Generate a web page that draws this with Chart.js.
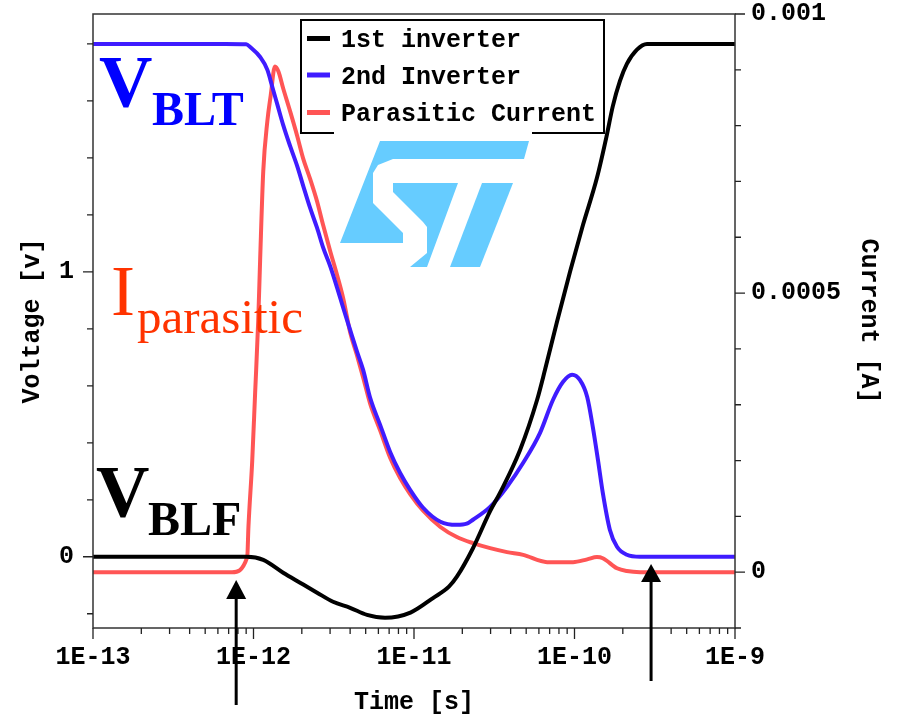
<!DOCTYPE html>
<html>
<head>
<meta charset="utf-8">
<script src="https://cdn.jsdelivr.net/npm/chart.js@4.4.1/dist/chart.umd.min.js"></script>
<style>
html,body{margin:0;padding:0;background:#fff;}
#wrap{width:901px;height:715px;}
canvas{display:block;}
</style>
</head>
<body>
<div id="wrap"><canvas id="c" width="901" height="715"></canvas></div>
<script>
// ---------------- DATA ----------------
const seriesNames = ['1st inverter', '2nd Inverter', 'Parasitic Current'];

const inv1Time = [1e-13, 9.1e-13, 1.15e-12, 1.53e-12, 1.95e-12, 2.49e-12, 3.13e-12, 4.0e-12, 5.1e-12, 6.6e-12,
  9.5e-12, 1.32e-11, 1.65e-11, 1.85e-11, 2.33e-11, 2.98e-11, 3.44e-11, 4.58e-11, 5.85e-11, 6.55e-11,
  7.78e-11, 9.38e-11, 1.13e-10, 1.38e-10, 1.59e-10, 1.73e-10, 1.92e-10, 2.12e-10, 2.45e-10, 2.83e-10,
  3.56e-10, 1e-9];
const inv1Volt = [0, 0, -0.011, -0.056, -0.091, -0.126, -0.158, -0.179, -0.204, -0.214,
  -0.196, -0.144, -0.105, -0.07, 0.03, 0.16, 0.225, 0.375, 0.551, 0.656,
  0.825, 1.0, 1.165, 1.33, 1.48, 1.58, 1.67, 1.73, 1.78, 1.80,
  1.80, 1.80];

const inv2Time = [1e-13, 6.7e-13, 9.0e-13, 9.53e-13, 1.10e-12, 1.22e-12, 1.31e-12, 1.41e-12, 1.53e-12, 1.69e-12,
  1.87e-12, 2.04e-12, 2.25e-12, 2.49e-12, 2.72e-12, 3.0e-12, 3.32e-12, 3.62e-12, 4.0e-12, 4.42e-12,
  4.82e-12, 5.33e-12, 6.15e-12, 7.1e-12, 8.18e-12, 9.46e-12, 1.14e-11, 1.46e-11, 1.85e-11, 2.13e-11,
  2.33e-11, 2.98e-11, 3.8e-11, 4.79e-11, 6.1e-11, 7.35e-11, 8.49e-11, 9.66e-11, 1.08e-10, 1.2e-10,
  1.3e-10, 1.4e-10, 1.5e-10, 1.66e-10, 1.84e-10, 2.12e-10, 2.56e-10, 1e-9];
const inv2Volt = [1.8, 1.8, 1.799, 1.789, 1.754, 1.709, 1.649, 1.586, 1.516, 1.442,
  1.372, 1.302, 1.225, 1.154, 1.084, 1.021, 0.944, 0.874, 0.796, 0.719,
  0.656, 0.558, 0.463, 0.368, 0.295, 0.235, 0.172, 0.123, 0.112, 0.116,
  0.13, 0.175, 0.246, 0.33, 0.435, 0.551, 0.614, 0.639, 0.621, 0.561,
  0.456, 0.34, 0.225, 0.095, 0.035, 0.007, 0, 0];

const parTime = [1e-13, 7.36e-13, 9.14e-13, 9.3e-13, 9.82e-13, 1.024e-12, 1.07e-12, 1.1e-12, 1.15e-12, 1.22e-12,
  1.28e-12, 1.36e-12, 1.43e-12, 1.53e-12, 1.69e-12, 1.87e-12, 2.04e-12, 2.25e-12, 2.49e-12, 2.72e-12,
  3.0e-12, 3.32e-12, 3.62e-12, 4.0e-12, 4.42e-12, 4.82e-12, 5.33e-12, 6.15e-12, 7.1e-12, 8.18e-12,
  9.46e-12, 1.14e-11, 1.46e-11, 1.85e-11, 2.33e-11, 2.98e-11, 3.8e-11, 4.79e-11, 6.75e-11, 9.79e-11,
  1.2e-10, 1.38e-10, 1.5e-10, 1.84e-10, 2.12e-10, 2.56e-10, 1e-9];
const parCurrent = [0, 0, 2.7e-5, 8.1e-5, 2.0e-4, 3.22e-4, 4.5e-4, 5.6e-4, 7.18e-4, 8.08e-4,
  8.54e-4, 9.06e-4, 8.97e-4, 8.67e-4, 8.26e-4, 7.82e-4, 7.41e-4, 7.05e-4, 6.64e-4, 6.21e-4,
  5.76e-4, 5.32e-4, 4.91e-4, 4.3e-4, 3.88e-4, 3.49e-4, 3.02e-4, 2.54e-4, 2.05e-4, 1.69e-4,
  1.40e-4, 1.10e-4, 8.1e-5, 6.3e-5, 5.2e-5, 4.3e-5, 3.6e-5, 3.1e-5, 1.8e-5, 1.8e-5,
  2.3e-5, 2.7e-5, 2.5e-5, 7e-6, 2e-6, 0, 0];

const xMajorTicks = [1e-13, 1e-12, 1e-11, 1e-10, 1e-9];
const xMajorLabels = ['1E-13', '1E-12', '1E-11', '1E-10', '1E-9'];
const xMinorMultipliers = [2, 3, 4, 5, 6, 7, 8, 9];

const voltTicks = [-0.2, 0, 0.2, 0.4, 0.6, 0.8, 1, 1.2, 1.4, 1.6, 1.8];
const voltLabeledTicks = [0, 1];
const voltTickLabels = ['0', '1'];

const currentTicks = [-0.0001, 0, 0.0001, 0.0002, 0.0003, 0.0004, 0.0005, 0.0006, 0.0007, 0.0008, 0.0009, 0.001];
const currentLabeledTicks = [0, 0.0005, 0.001];
const currentTickLabels = ['0', '0.0005', '0.001'];

const arrowTimes = [7.8e-13, 3e-10];

// ---------------- HELPERS ----------------
const near = (a, b) => a === b || Math.abs(a - b) <= Math.max(Math.abs(a), Math.abs(b)) * 1e-6;
const labelFrom = (vals, labels) => (v) => { const i = vals.findIndex(m => near(m, v)); return i >= 0 ? labels[i] : ''; };
const xTickValues = [];
xMajorTicks.forEach((d, i) => {
  xTickValues.push(d);
  if (i < xMajorTicks.length - 1) xMinorMultipliers.forEach(m => xTickValues.push(d * m));
});
const toXY = (xs, ys) => xs.map((x, i) => ({ x: x, y: ys[i] }));
const noPad = s => { s.paddingTop = 0; s.paddingBottom = 0; s.paddingLeft = 0; s.paddingRight = 0; };

const MONO = '"Liberation Mono", "Courier New", monospace';
const SERIF = '"Liberation Serif", "Times New Roman", serif';
const lineColors = ['#000000', '#3f1cff', '#ff5555'];

// ---------------- DECORATION PLUGIN ----------------
const deco = {
  id: 'deco',
  beforeDraw(chart) {
    const c = chart.ctx;
    c.save();
    c.fillStyle = '#ffffff';
    c.fillRect(0, 0, chart.width, chart.height);
    c.restore();
  },
  beforeDatasetsDraw(chart) {
    const c = chart.ctx;
    c.save();
    c.fillStyle = '#66ccff';
    const polys = [
      [[380,141],[529,141],[524,159],[393,159],[378,165],[373,173],[373,203],[380,210],[403,233],[403,243],[340,243]],
      [[393,183],[458,183],[427,267],[410,267],[427,253],[427,227],[423,222],[393,192]],
      [[482,183],[513,183],[480,267],[450,267]]
    ];
    polys.forEach(p => {
      c.beginPath();
      p.forEach((pt, i) => i ? c.lineTo(pt[0], pt[1]) : c.moveTo(pt[0], pt[1]));
      c.closePath();
      c.fill();
    });
    c.restore();
  },
  afterDraw(chart) {
    const c = chart.ctx;
    const a = chart.chartArea;
    const sx = chart.scales.x, sv = chart.scales.yV, si = chart.scales.yI;
    c.save();
    // frame
    c.strokeStyle = '#333';
    c.lineWidth = 1.5;
    c.strokeRect(a.left, a.top, a.right - a.left, a.bottom - a.top);
    // tick marks
    c.lineWidth = 1.3;
    c.strokeStyle = '#222';
    c.beginPath();
    sx.ticks.forEach(t => { const p = sx.getPixelForValue(t.value); const l = t.major ? 11 : 6; c.moveTo(p, a.bottom); c.lineTo(p, a.bottom + l); });
    sv.ticks.forEach(t => { const p = sv.getPixelForValue(t.value); const l = t.major ? 10 : 6; c.moveTo(a.left, p); c.lineTo(a.left - l, p); });
    si.ticks.forEach(t => { const p = si.getPixelForValue(t.value); const l = t.major ? 10 : 6; c.moveTo(a.right, p); c.lineTo(a.right + l, p); });
    c.stroke();

    // legend
    c.strokeStyle = '#000';
    c.lineWidth = 2;
    c.strokeRect(301, 20, 303, 113);
    c.font = 'bold 25px ' + MONO;
    c.textBaseline = 'alphabetic';
    c.textAlign = 'left';
    const rows = [38.5, 75, 112.5];
    chart.data.datasets.forEach((ds, i) => {
      c.strokeStyle = ds.borderColor;
      c.lineWidth = 5;
      c.beginPath(); c.moveTo(307, rows[i]); c.lineTo(330, rows[i]); c.stroke();
      c.fillStyle = '#000';
      c.fillText(ds.label, 341, rows[i] + 8.5);
    });
    // logo backing overlapping legend edge
    c.fillStyle = '#fff';
    c.fillRect(334, 130.5, 198, 4);

    // annotations
    c.textAlign = 'left';
    c.textBaseline = 'alphabetic';
    c.fillStyle = '#0000ff';
    c.font = 'bold 74px ' + SERIF; c.fillText('V', 99, 107);
    c.font = 'bold 48px ' + SERIF; c.fillText('BLT', 152, 125);
    c.fillStyle = '#ff3300';
    c.font = '72px ' + SERIF; c.fillText('I', 111, 315);
    c.font = '49px ' + SERIF; c.fillText('parasitic', 137, 333);
    c.fillStyle = '#000';
    c.font = 'bold 74px ' + SERIF; c.fillText('V', 96, 517);
    c.font = 'bold 48px ' + SERIF; c.fillText('BLF', 148, 535);

    // arrows
    const arrow = (t, tipY, baseY, endY) => {
      const x = sx.getPixelForValue(t);
      c.strokeStyle = '#000'; c.fillStyle = '#000'; c.lineWidth = 3;
      c.beginPath(); c.moveTo(x, baseY - 2); c.lineTo(x, endY); c.stroke();
      c.beginPath(); c.moveTo(x, tipY); c.lineTo(x - 10, baseY); c.lineTo(x + 10, baseY); c.closePath(); c.fill();
    };
    arrow(arrowTimes[0], 580, 599, 705);
    arrow(arrowTimes[1], 564, 582, 681);
    c.restore();
  }
};

// ---------------- CHART ----------------
const tickFont = { family: MONO, size: 25, weight: 'bold' };
const titleFont = { family: MONO, size: 25, weight: 'bold', lineHeight: 1 };
const lineStyle = { borderWidth: 4, pointRadius: 0, cubicInterpolationMode: 'monotone', fill: false, borderJoinStyle: 'round', borderCapStyle: 'round' };

new Chart(document.getElementById('c').getContext('2d'), {
  type: 'line',
  data: {
    datasets: [
      Object.assign({ label: seriesNames[0], data: toXY(inv1Time, inv1Volt), yAxisID: 'yV', borderColor: lineColors[0] }, lineStyle),
      Object.assign({ label: seriesNames[1], data: toXY(inv2Time, inv2Volt), yAxisID: 'yV', borderColor: lineColors[1] }, lineStyle),
      Object.assign({ label: seriesNames[2], data: toXY(parTime, parCurrent), yAxisID: 'yI', borderColor: lineColors[2] }, lineStyle)
    ]
  },
  options: {
    responsive: false,
    animation: false,
    devicePixelRatio: 1,
    layout: { padding: { top: 14, left: 0, right: 0, bottom: 0 } },
    plugins: { legend: { display: false }, tooltip: { enabled: false } },
    scales: {
      x: {
        type: 'logarithmic', position: 'bottom', min: 1e-13, max: 1e-9,
        grid: { display: false, drawTicks: false }, border: { display: false },
        afterBuildTicks: s => { s.ticks = xTickValues.map(v => ({ value: v, major: xMajorTicks.some(m => near(m, v)) })); },
        afterFit: s => { s.height = 87; noPad(s); },
        ticks: { autoSkip: false, maxRotation: 0, minRotation: 0, padding: 15, color: '#000', font: tickFont, callback: labelFrom(xMajorTicks, xMajorLabels) },
        title: { display: true, text: 'Time [s]', color: '#000', font: titleFont, padding: { top: 0, bottom: 0 } }
      },
      yV: {
        type: 'linear', position: 'left', min: -0.25, max: 1.905,
        grid: { display: false, drawTicks: false }, border: { display: false },
        afterBuildTicks: s => { s.ticks = voltTicks.map(v => ({ value: v, major: voltLabeledTicks.some(m => near(m, v)) })); },
        afterFit: s => { s.width = 93; noPad(s); },
        ticks: { autoSkip: false, padding: 19, color: '#000', font: tickFont, callback: labelFrom(voltLabeledTicks, voltTickLabels) },
        title: { display: true, text: 'Voltage [v]', color: '#000', font: titleFont, padding: { top: 20, bottom: 0 } }
      },
      yI: {
        type: 'linear', position: 'right', min: -0.0001, max: 0.001,
        grid: { display: false, drawTicks: false }, border: { display: false },
        afterBuildTicks: s => { s.ticks = currentTicks.map(v => ({ value: v, major: currentLabeledTicks.some(m => near(m, v)) })); },
        afterFit: s => { s.width = 166; noPad(s); },
        ticks: { autoSkip: false, padding: 16, color: '#000', font: tickFont, callback: labelFrom(currentLabeledTicks, currentTickLabels) },
        title: { display: true, text: 'Current [A]', color: '#000', font: titleFont, padding: { top: 20, bottom: 0 } }
      }
    }
  },
  plugins: [deco]
});
</script>
</body>
</html>
